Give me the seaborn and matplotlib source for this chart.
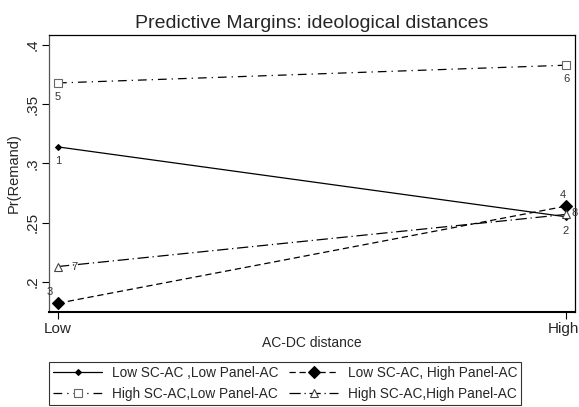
import matplotlib
matplotlib.use("Agg")
import matplotlib.pyplot as plt
import matplotlib.transforms as mtransforms
import seaborn as sns
import pandas as pd

categories = ["Low", "High"]
series_names = ["Low SC-AC ,Low Panel-AC", "Low SC-AC, High Panel-AC",
                "High SC-AC,Low Panel-AC", "High SC-AC,High Panel-AC"]
low_low = [0.314, 0.255]
low_high = [0.182, 0.264]
high_low = [0.368, 0.383]
high_high = [0.213, 0.257]
point_ids = [[1, 2], [3, 4], [5, 6], [7, 8]]
yticks = [0.2, 0.25, 0.3, 0.35, 0.4]
ytick_labels = [".2", ".25", ".3", ".35", ".4"]

values = [low_low, low_high, high_low, high_high]
rows = []
for name, vals in zip(series_names, values):
    for i, (c, v) in enumerate(zip(categories, vals)):
        rows.append({"series": name, "x": i, "cat": c, "y": v})
df = pd.DataFrame(rows)

sns.set_style("white")
plt.rcParams['font.family'] = ['Liberation Sans', 'DejaVu Sans']

fig = plt.figure(figsize=(5.79, 4.07), dpi=100)
ax = fig.add_axes([49/579, (407-312)/407, (575-49)/579, (312-35)/407])

styles = [
    dict(dashes=None, marker="D", ms=3, mfc="black", mec="black"),
    dict(dashes=(5, 3), marker="D", ms=6, mfc="black", mec="black"),
    dict(dashes=(7, 4, 1, 4), marker="s", ms=5.5, mfc="white", mec="#666666"),
    dict(dashes=(9, 3, 1, 3), marker="^", ms=6, mfc="white", mec="#444444"),
]

handles = []
for name, st in zip(series_names, styles):
    d = df[df.series == name]
    sns.lineplot(data=d, x="x", y="y", ax=ax, color="black", lw=0.9, legend=False)
    ln = ax.lines[-1]
    if st["dashes"] is not None:
        ln.set_dashes(st["dashes"])
    ln.set_marker(st["marker"])
    ln.set_markersize(st["ms"])
    ln.set_markerfacecolor(st["mfc"])
    ln.set_markeredgecolor(st["mec"])
    ln.set_markeredgewidth(0.8)
    handles.append(ln)

# point labels
offsets = {1: (0, -10), 2: (0, -10), 3: (-6, 8), 4: (-2, 8), 5: (0, -10), 6: (0, -10), 7: (12, 0), 8: (6, 1)}
for ids, vals in zip(point_ids, values):
    for i, (pid, v) in enumerate(zip(ids, vals)):
        dx, dy = offsets[pid]
        ax.annotate(str(pid), (i, v), xytext=(dx, dy), textcoords="offset points",
                    ha="center", va="center", fontsize=8, color="#333333",
                    annotation_clip=False)

ax.set_xlim(-0.0177, 1.0177)
ax.set_ylim(0.1746, 0.4085)
ax.set_xticks([0, 1])
ax.set_xticklabels(categories, fontsize=11)
ax.set_yticks(yticks)
ax.set_yticklabels(ytick_labels, rotation=90, va="center", fontsize=11)
ax.tick_params(axis="both", direction="out", length=5, width=0.8, color="black",
               left=True, bottom=True, pad=2)
# nudge "High" left so it stays inside the figure
hi = ax.get_xticklabels()[1]
hi.set_transform(hi.get_transform() + mtransforms.ScaledTranslation(-3/100, 0, fig.dpi_scale_trans))
ax.set_xlabel("AC-DC distance", fontsize=10, labelpad=0)
ax.set_ylabel("Pr(Remand)", fontsize=10.5, labelpad=3)
for s in ax.spines.values():
    s.set_color("black")
    s.set_linewidth(0.9)
ax.spines["left"].set_color("#555555")
ax.spines["bottom"].set_linewidth(1.5)
ax.set_title("Predictive Margins: ideological distances", fontsize=14, pad=5)

order = [0, 2, 1, 3]
leg = fig.legend([handles[i] for i in order], [series_names[i] for i in order],
                 ncol=2, loc="upper left",
                 bbox_to_anchor=(49/579, (407-362)/407), frameon=True,
                 fontsize=9.8, handlelength=3.6, handletextpad=0.7, columnspacing=0.8,
                 borderpad=0.3, labelspacing=0.5, fancybox=False, borderaxespad=0)
leg.get_frame().set_edgecolor("black")
leg.get_frame().set_linewidth(0.8)

fig.savefig("out.png", dpi=100)
